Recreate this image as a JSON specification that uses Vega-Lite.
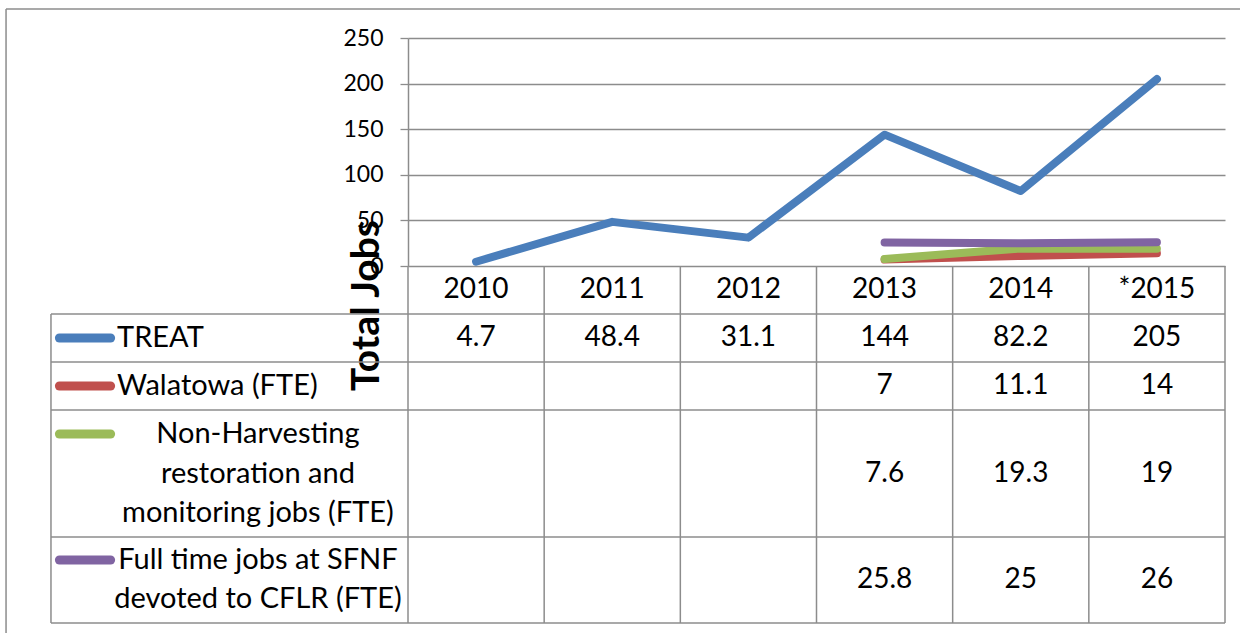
{
  "$schema": "https://vega.github.io/schema/vega-lite/v6.json",
  "width": 817,
  "height": 228,
  "autosize": "none",
  "padding": {"left": 408, "top": 38, "right": 15, "bottom": 367},
  "background": "white",
  "config": {"view": {"stroke": null}, "font": "Lato", "text": {"font": "Lato"}},
  "datasets": {
    "jobs": [
      {"series": "TREAT", "row": 1, "year": 2010, "value": 4.7},
      {"series": "TREAT", "row": 1, "year": 2011, "value": 48.4},
      {"series": "TREAT", "row": 1, "year": 2012, "value": 31.1},
      {"series": "TREAT", "row": 1, "year": 2013, "value": 144},
      {"series": "TREAT", "row": 1, "year": 2014, "value": 82.2},
      {"series": "TREAT", "row": 1, "year": 2015, "value": 205},
      {"series": "Walatowa (FTE)", "row": 2, "year": 2013, "value": 7},
      {"series": "Walatowa (FTE)", "row": 2, "year": 2014, "value": 11.1},
      {"series": "Walatowa (FTE)", "row": 2, "year": 2015, "value": 14},
      {"series": "Non-Harvesting restoration and monitoring jobs (FTE)", "row": 3, "year": 2013, "value": 7.6},
      {"series": "Non-Harvesting restoration and monitoring jobs (FTE)", "row": 3, "year": 2014, "value": 19.3},
      {"series": "Non-Harvesting restoration and monitoring jobs (FTE)", "row": 3, "year": 2015, "value": 19},
      {"series": "Full time jobs at SFNF devoted to CFLR (FTE)", "row": 4, "year": 2013, "value": 25.8},
      {"series": "Full time jobs at SFNF devoted to CFLR (FTE)", "row": 4, "year": 2014, "value": 25},
      {"series": "Full time jobs at SFNF devoted to CFLR (FTE)", "row": 4, "year": 2015, "value": 26}
    ],
    "years": [
      {"year": 2010, "label": "2010"},
      {"year": 2011, "label": "2011"},
      {"year": 2012, "label": "2012"},
      {"year": 2013, "label": "2013"},
      {"year": 2014, "label": "2014"},
      {"year": 2015, "label": "*2015"}
    ],
    "names": [
      {"series": "TREAT", "row": 1, "label": "TREAT"},
      {"series": "Walatowa (FTE)", "row": 2, "label": "Walatowa (FTE)"},
      {"series": "Non-Harvesting restoration and monitoring jobs (FTE)", "row": 3, "label": "Non-Harvesting\nrestoration and\nmonitoring jobs (FTE)"},
      {"series": "Full time jobs at SFNF devoted to CFLR (FTE)", "row": 4, "label": "Full time jobs at SFNF\ndevoted to CFLR (FTE)"}
    ],
    "hlines": [
      {"b": 0.5, "from": 2006.878, "to": 2015.5},
      {"b": 1.5, "from": 2006.878, "to": 2015.5},
      {"b": 2.5, "from": 2006.878, "to": 2015.5},
      {"b": 3.5, "from": 2006.878, "to": 2015.5},
      {"b": 4.5, "from": 2006.878, "to": 2015.5}
    ],
    "vlines": [
      {"c": 2006.878, "top": 0.5, "bottom": 4.5},
      {"c": 2009.5, "top": -0.5, "bottom": 4.5},
      {"c": 2010.5, "top": -0.5, "bottom": 4.5},
      {"c": 2011.5, "top": -0.5, "bottom": 4.5},
      {"c": 2012.5, "top": -0.5, "bottom": 4.5},
      {"c": 2013.5, "top": -0.5, "bottom": 4.5},
      {"c": 2014.5, "top": -0.5, "bottom": 4.5},
      {"c": 2015.5, "top": -0.5, "bottom": 4.5}
    ]
  },
  "resolve": {"scale": {"y": "independent"}},
  "layer": [
    {
      "layer": [
        {
          "data": {"values": [{}]},
          "mark": {"type": "rule", "color": "#8c8c8c", "strokeWidth": 1.5},
          "encoding": {
            "x": {"datum": 2006.548, "type": "quantitative", "scale": {"domain": [2009.5, 2015.5], "nice": false, "zero": false}, "axis": null},
            "x2": {"datum": 2016.5},
            "y": {"datum": 281.8, "type": "quantitative", "scale": {"domain": [0, 250], "nice": false, "zero": false}}
          }
        },
        {
          "data": {"values": [{}]},
          "mark": {"type": "rule", "color": "#8c8c8c", "strokeWidth": 1.5},
          "encoding": {
            "x": {"datum": 2006.548, "type": "quantitative", "axis": null},
            "y": {"datum": 281.8, "type": "quantitative"},
            "y2": {"datum": -430}
          }
        },
        {
          "data": {"name": "jobs"},
          "mark": {"type": "line", "strokeWidth": 8, "strokeCap": "round", "strokeJoin": "round"},
          "encoding": {
            "x": {"field": "year", "type": "quantitative", "scale": {"domain": [2009.5, 2015.5], "nice": false, "zero": false}, "axis": null},
            "y": {
              "field": "value", "type": "quantitative",
              "scale": {"domain": [0, 250], "nice": false, "zero": false},
              "axis": {
                "values": [0, 50, 100, 150, 200, 250],
                "grid": true, "gridColor": "#8c8c8c", "gridWidth": 1.3,
                "domain": true, "domainColor": "#8c8c8c", "domainWidth": 1.5,
                "ticks": true, "tickColor": "#8c8c8c", "tickSize": 8, "tickWidth": 1.3,
                "labelFont": "Lato", "labelFontSize": 23, "labelColor": "black", "labelPadding": 17,
                "title": "Total Jobs", "titleFont": "Lato", "titleFontSize": 39, "titleFontWeight": "bold", "titleColor": "black",
                "titleAngle": -90, "titleX": -30, "titleY": 267, "titleAlign": "center", "titleBaseline": "alphabetic"
              }
            },
            "color": {
              "field": "series", "type": "nominal", "legend": null,
              "scale": {
                "domain": ["TREAT", "Walatowa (FTE)", "Non-Harvesting restoration and monitoring jobs (FTE)", "Full time jobs at SFNF devoted to CFLR (FTE)"],
                "range": ["#4A7EBB", "#C0504D", "#9BBB59", "#8064A2"]
              }
            }
          }
        }
      ]
    },
    {
      "layer": [
        {
          "data": {"name": "hlines"},
          "mark": {"type": "rule", "color": "#8c8c8c", "strokeWidth": 1.5},
          "encoding": {
            "x": {"field": "from", "type": "quantitative", "axis": null},
            "x2": {"field": "to"},
            "y": {"field": "b", "type": "quantitative", "axis": null, "scale": {"domain": [-0.5, 0.5, 1.5, 2.5, 3.5, 4.5], "range": [228, 276, 324, 372, 499, 585], "nice": false, "zero": false}}
          }
        },
        {
          "data": {"name": "vlines"},
          "mark": {"type": "rule", "color": "#8c8c8c", "strokeWidth": 1.5},
          "encoding": {
            "x": {"field": "c", "type": "quantitative", "axis": null},
            "y": {"field": "top", "type": "quantitative", "axis": null},
            "y2": {"field": "bottom"}
          }
        },
        {
          "data": {"name": "years"},
          "mark": {"type": "text", "font": "Lato", "fontSize": 28, "color": "black", "baseline": "middle", "align": "center"},
          "encoding": {
            "x": {"field": "year", "type": "quantitative", "axis": null},
            "y": {"datum": 0, "type": "quantitative", "axis": null},
            "text": {"field": "label"}
          }
        },
        {
          "data": {"name": "jobs"},
          "mark": {"type": "text", "font": "Lato", "fontSize": 28, "color": "black", "baseline": "middle", "align": "center"},
          "encoding": {
            "x": {"field": "year", "type": "quantitative", "axis": null},
            "y": {"field": "row", "type": "quantitative", "axis": null},
            "text": {"field": "value", "type": "quantitative", "format": "~g"}
          }
        },
        {
          "data": {"name": "names"},
          "transform": [{"filter": "datum.row <= 2"}],
          "layer": [
            {
              "mark": {"type": "rule", "strokeWidth": 9, "strokeCap": "round"},
              "encoding": {
                "x": {"datum": 2006.94, "type": "quantitative", "axis": null},
                "x2": {"datum": 2007.316},
                "y": {"field": "row", "type": "quantitative", "axis": null},
                "color": {"field": "series", "type": "nominal", "legend": null}
              }
            },
            {
              "mark": {"type": "text", "font": "Lato", "fontSize": 29, "color": "black", "baseline": "middle", "align": "left"},
              "encoding": {
                "x": {"datum": 2007.363, "type": "quantitative", "axis": null},
                "y": {"field": "row", "type": "quantitative", "axis": null},
                "text": {"field": "label"}
              }
            }
          ]
        },
        {
          "data": {"name": "names"},
          "transform": [{"filter": "datum.row == 3"}],
          "layer": [
            {
              "mark": {"type": "rule", "strokeWidth": 9, "strokeCap": "round", "yOffset": -39.5},
              "encoding": {
                "x": {"datum": 2006.94, "type": "quantitative", "axis": null},
                "x2": {"datum": 2007.316},
                "y": {"field": "row", "type": "quantitative", "axis": null},
                "color": {"field": "series", "type": "nominal", "legend": null}
              }
            },
            {
              "mark": {"type": "text", "font": "Lato", "fontSize": 29, "color": "black", "baseline": "middle", "align": "center", "lineBreak": "\n", "lineHeight": 39.5, "yOffset": -39.5},
              "encoding": {
                "x": {"datum": 2008.398, "type": "quantitative", "axis": null},
                "y": {"field": "row", "type": "quantitative", "axis": null},
                "text": {"field": "label"}
              }
            }
          ]
        },
        {
          "data": {"name": "names"},
          "transform": [{"filter": "datum.row == 4"}],
          "layer": [
            {
              "mark": {"type": "rule", "strokeWidth": 9, "strokeCap": "round", "yOffset": -20},
              "encoding": {
                "x": {"datum": 2006.94, "type": "quantitative", "axis": null},
                "x2": {"datum": 2007.316},
                "y": {"field": "row", "type": "quantitative", "axis": null},
                "color": {"field": "series", "type": "nominal", "legend": null}
              }
            },
            {
              "mark": {"type": "text", "font": "Lato", "fontSize": 29, "color": "black", "baseline": "middle", "align": "center", "lineBreak": "\n", "lineHeight": 39, "yOffset": -20},
              "encoding": {
                "x": {"datum": 2008.398, "type": "quantitative", "axis": null},
                "y": {"field": "row", "type": "quantitative", "axis": null},
                "text": {"field": "label"}
              }
            }
          ]
        }
      ]
    }
  ]
}
